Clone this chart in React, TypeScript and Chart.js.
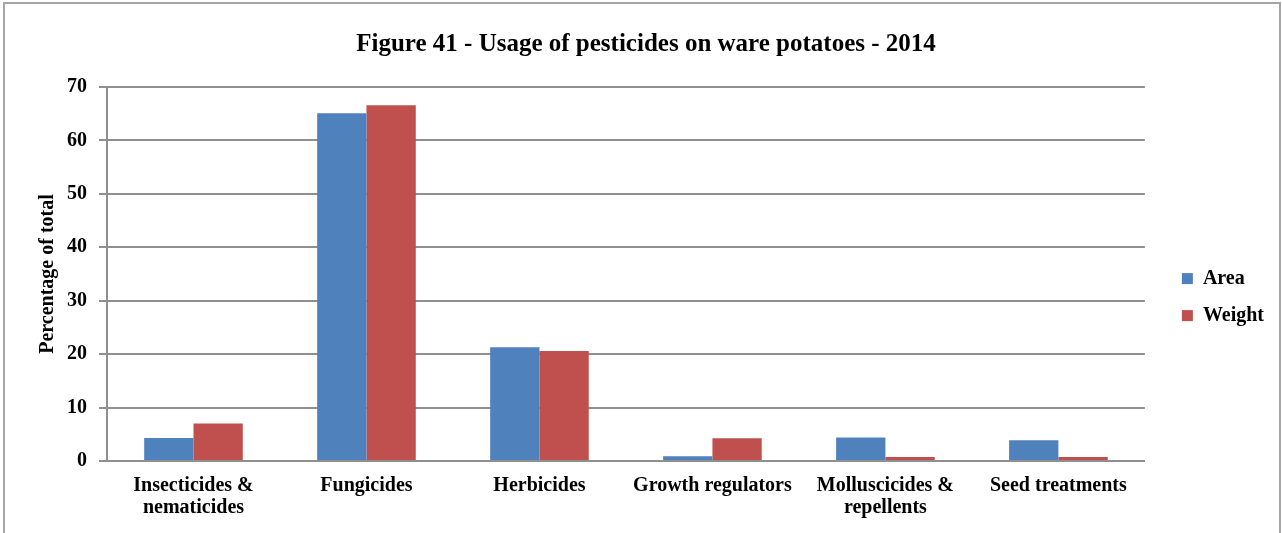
import React, { useEffect, useRef } from 'react';
import { Chart, registerables } from 'chart.js';

Chart.register(...registerables);

const chartTitle = 'Figure 41 - Usage of pesticides on ware potatoes - 2014';
const categories: (string | string[])[] = [
  ['Insecticides &', 'nematicides'],
  'Fungicides',
  'Herbicides',
  'Growth regulators',
  ['Molluscicides &', 'repellents'],
  'Seed treatments',
];
const areaValues = [4.3, 65.1, 21.3, 0.9, 4.4, 3.9];
const weightValues = [7.0, 66.6, 20.6, 4.25, 0.75, 0.75];
const yTicks = [0, 10, 20, 30, 40, 50, 60, 70];
const yAxisTitle = 'Percentage of total';
const seriesNames = ['Area', 'Weight'];

const FONT = "'Liberation Serif', 'Times New Roman', serif";
const GRID = '#8f8f8f';

export default function App() {
  const ref = useRef<HTMLCanvasElement | null>(null);

  useEffect(() => {
    if (!ref.current) return;
    const chart = new Chart(ref.current, {
      type: 'bar',
      data: {
        labels: categories,
        datasets: [
          {
            label: seriesNames[0],
            data: areaValues,
            backgroundColor: '#4F81BD',
            categoryPercentage: 0.57,
            barPercentage: 1.0,
            yAxisID: 'y',
          },
          {
            label: seriesNames[1],
            data: weightValues,
            backgroundColor: '#C0504D',
            categoryPercentage: 0.57,
            barPercentage: 1.0,
            yAxisID: 'y',
          },
        ],
      },
      options: {
        animation: false,
        responsive: false,
        maintainAspectRatio: false,
        layout: { padding: { left: 18, right: 8, top: 0, bottom: 0 } },
        plugins: {
          tooltip: { enabled: false },
          title: {
            display: true,
            text: chartTitle,
            color: '#000',
            font: { family: FONT, size: 25, weight: 'bold', lineHeight: 1.2 },
            padding: { top: 30, bottom: 27 },
          },
          legend: {
            position: 'right',
            align: 'center',
            title: {
              display: true,
              text: ' ',
              font: { size: 1 },
              padding: 30,
            },
            labels: {
              color: '#000',
              boxWidth: 11,
              boxHeight: 11,
              padding: 17,
              font: { family: FONT, size: 20, weight: 'bold' },
            },
          },
        },
        scales: {
          x: {
            grid: { display: false },
            border: { display: true, color: GRID, width: 2 },
            ticks: {
              color: '#000',
              padding: 6,
              maxRotation: 0,
              autoSkip: false,
              font: { family: FONT, size: 20, weight: 'bold', lineHeight: 1.1 },
            },
            afterFit: (s: any) => {
              s.height = 72;
            },
          },
          y: {
            min: 0,
            max: 70,
            afterBuildTicks: (s: any) => {
              s.ticks = yTicks.map((v) => ({ value: v }));
            },
            grid: { color: GRID, lineWidth: 2, tickLength: 8, drawTicks: true },
            border: { display: true, color: GRID, width: 2 },
            ticks: {
              color: '#000',
              padding: 12,
              font: { family: FONT, size: 20, weight: 'bold' },
            },
            title: {
              display: true,
              text: yAxisTitle,
              color: '#000',
              font: { family: FONT, size: 20, weight: 'bold', lineHeight: 1.2 },
              padding: { top: 18, bottom: 0 },
            },
            afterFit: (s: any) => {
              s.width = 89;
            },
          },
          spacer: {
            type: 'linear',
            position: 'right',
            display: true,
            grid: { display: false, drawTicks: false },
            border: { display: false },
            ticks: { display: false },
            afterFit: (s: any) => {
              s.width = 20;
            },
          },
        },
      },
    } as any);
    return () => chart.destroy();
  }, []);

  return (
    <div style={{ position: 'fixed', left: 0, top: 0, width: 1282, height: 533, background: '#fff', overflow: 'hidden' }}>
      <canvas ref={ref} width={1282} height={533} style={{ position: 'absolute', left: 0, top: 0 }} />
      <div
        style={{
          position: 'absolute',
          left: 3,
          top: 2,
          width: 1274,
          height: 560,
          border: '2px solid #a6a6a6',
          pointerEvents: 'none',
        }}
      />
    </div>
  );
}
